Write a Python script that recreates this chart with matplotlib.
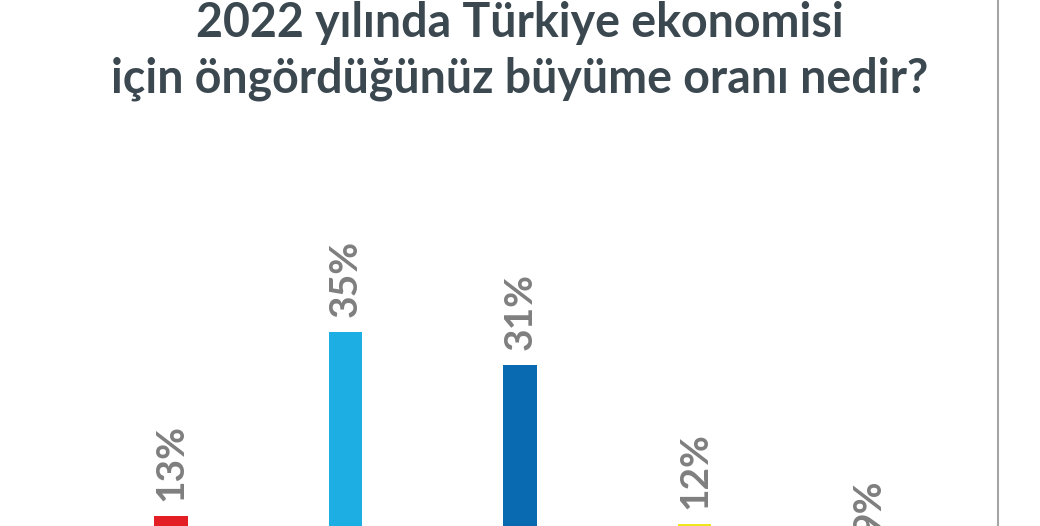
import matplotlib.pyplot as plt
from matplotlib.lines import Line2D

# Survey answers (categories cut off at the bottom of the picture)
values = [13, 35, 31, 12, 9]
labels = ['13%', '35%', '31%', '12%', '9%']
colors = ['#E31E25', '#1DAEE3', '#0A6AB1', '#EEE51C', '#8CC63F']

title_line1 = '2022 yılında Türkiye ekonomisi'
title_line2 = 'için öngördüğünüz büyüme oranı nedir?'

fig = plt.figure(figsize=(10.4, 5.26), dpi=100)
ax = fig.add_axes([0, 0, 1, 1])

x = list(range(len(values)))
ax.bar(x, values, width=0.19, color=colors, zorder=2)

for xi, v, lab in zip(x, values, labels):
    ax.text(xi, v + 1.8, lab, rotation=90, ha='center', va='bottom',
            fontsize=28, fontweight='bold', color='#7F7F80', family='Lato')

# the source picture is cropped: the baseline lies below the bottom edge
ax.set_xlim(-0.98, 4.98)
ax.set_ylim(11.75, 74.8)
ax.axis('off')

# thin grey separator on the right
fig.add_artist(Line2D([0.9596, 0.9596], [0, 1], transform=fig.transFigure,
                      color='#A5A5A5', linewidth=1.5))

title_kw = dict(ha='center', va='baseline', fontsize=33.5, fontweight='bold',
                color='#3B4850', family='Lato')
fig.text(0.5, 0.9297, title_line1, **title_kw)
fig.text(0.5, 0.825, title_line2, **title_kw)

fig.savefig('out.png', dpi=100)
